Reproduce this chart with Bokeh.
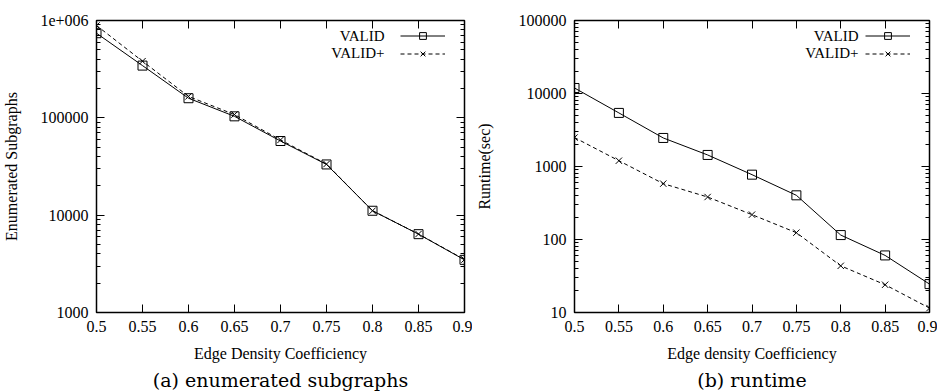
from bokeh.plotting import figure
from bokeh.layouts import row
from bokeh.models import (FixedTicker, CustomJSTickFormatter, LinearAxis, LogAxis,
                          Legend, LegendItem, Label, Title, Range1d)
from bokeh.embed import file_html
from bokeh.resources import INLINE

# ---- data ----
density = [0.5, 0.55, 0.6, 0.65, 0.7, 0.75, 0.8, 0.85, 0.9]
x_ticks = [0.5, 0.55, 0.6, 0.65, 0.7, 0.75, 0.8, 0.85, 0.9]
x_tick_labels = ["0.5", "0.55", "0.6", "0.65", "0.7", "0.75", "0.8", "0.85", "0.9"]

enum_valid = [740000, 344000, 159000, 103600, 57800, 33200, 11100, 6380, 3475]
enum_validplus = [889000, 382000, 166000, 108000, 59300, 33500, 11100, 6400, 3500]
enum_y_ticks = [1000, 10000, 100000, 1000000]
enum_y_labels = ["1000", "10000", "100000", "1e+006"]

runtime_valid = [11900, 5420, 2460, 1440, 773, 403, 115, 60.5, 24.5]
runtime_validplus = [2490, 1200, 582, 382, 219, 124, 43.6, 24, 11.5]
runtime_y_ticks = [10, 100, 1000, 10000, 100000]
runtime_y_labels = ["10", "100", "1000", "10000", "100000"]

series_names = ["VALID", "VALID+"]

FONT = "Liberation Serif"
CAPTION_FONT = "DejaVu Serif"

FMT_CODE = """
for (let i = 0; i < tvals.length; i++) {
  if (Math.abs(tvals[i] - tick) <= 1e-6 * Math.abs(tvals[i])) { return tlabels[i]; }
}
return "";
"""


def style_axis(ax, show_labels):
    ax.axis_line_color = None
    ax.major_tick_line_color = "black"
    ax.major_tick_line_width = 1
    ax.major_tick_in = 8
    ax.major_tick_out = 0
    ax.minor_tick_line_color = "black"
    ax.minor_tick_line_width = 1
    ax.minor_tick_in = 4
    ax.minor_tick_out = 0
    ax.major_label_text_font = FONT
    ax.major_label_text_color = "black"
    ax.axis_label_text_font = FONT
    ax.axis_label_text_font_style = "normal"
    ax.axis_label_text_color = "black"
    ax.axis_label_text_font_size = "16px"
    if show_labels:
        ax.major_label_text_font_size = "16px"
    else:
        ax.major_label_text_font_size = "0px"
        ax.major_label_standoff = 0
        ax.formatter = CustomJSTickFormatter(code='return "";')


def make_panel(y_valid, y_plus, y_ticks, y_labels, y_title, x_title, caption,
               total_w, frame_w, border_left, ylab_standoff):
    p = figure(width=total_w, frame_height=292,
               x_range=Range1d(x_ticks[0], x_ticks[-1]),
               y_range=Range1d(y_ticks[0], y_ticks[-1]),
               y_axis_type="log", output_backend="svg", toolbar_location=None,
               min_border_left=border_left, min_border_right=8,
               min_border_top=20, min_border_bottom=0,
               background_fill_color="white", border_fill_color="white")
    p.grid.visible = False
    p.outline_line_color = "black"
    p.outline_line_width = 1.5

    minor = [k * t for t in y_ticks[:-1] for k in range(2, 10)]
    yticker = FixedTicker(ticks=y_ticks, minor_ticks=minor)
    xticker = FixedTicker(ticks=x_ticks, minor_ticks=[])

    yax = p.yaxis[0]
    yax.ticker = yticker
    yax.formatter = CustomJSTickFormatter(args=dict(tvals=y_ticks, tlabels=y_labels), code=FMT_CODE)
    style_axis(yax, True)
    yax.axis_label = y_title
    yax.major_label_standoff = 8
    yax.axis_label_standoff = ylab_standoff

    xax = p.xaxis[0]
    xax.ticker = xticker
    xax.formatter = CustomJSTickFormatter(args=dict(tvals=x_ticks, tlabels=x_tick_labels), code=FMT_CODE)
    style_axis(xax, True)
    xax.axis_label = x_title
    xax.major_label_standoff = 8
    xax.axis_label_standoff = 10

    rax = LogAxis(ticker=yticker)
    style_axis(rax, False)
    p.add_layout(rax, "right")
    tax = LinearAxis(ticker=xticker)
    style_axis(tax, False)
    p.add_layout(tax, "above")

    r1 = p.line(density, y_valid, line_color="black", line_width=1)
    s1 = p.scatter(density, y_valid, marker="square", size=9, fill_color=None,
                   line_color="black", line_width=1)
    r2 = p.line(density, y_plus, line_color="black", line_width=1, line_dash="4 3")
    s2 = p.scatter(density, y_plus, marker="x", size=9, line_color="black", line_width=1)

    legend = Legend(items=[LegendItem(label=" ", renderers=[r1, s1]),
                           LegendItem(label=" ", renderers=[r2, s2])],
                    location="top_right", margin=7, padding=0, spacing=1,
                    glyph_width=45, glyph_height=17, label_height=17,
                    label_width=12, label_standoff=0,
                    border_line_color=None, background_fill_alpha=0,
                    label_text_font_size="1px")
    p.add_layout(legend)

    for name, yy in zip(series_names, [277, 259.5]):
        p.add_layout(Label(x=frame_w - 76, y=yy, x_units="screen", y_units="screen", text=name,
                           anchor="center_right", text_align="right", text_baseline="middle",
                           text_font=FONT, text_font_size="15px", text_color="black"))

    t = Title(text=caption, align="center", text_font=CAPTION_FONT, text_font_size="19px",
              text_font_style="normal", text_color="black", standoff=5)
    p.add_layout(t, "below")
    return p


p1 = make_panel(enum_valid, enum_validplus, enum_y_ticks, enum_y_labels,
                "Enumerated Subgraphs", "Edge Density Coefficiency",
                "(a) enumerated subgraphs", 472, 364, 92, 17)
p2 = make_panel(runtime_valid, runtime_validplus, runtime_y_ticks, runtime_y_labels,
                "Runtime(sec)", "Edge density Coefficiency",
                "(b) runtime", 465, 360, 89, 23)

layout = row(p1, p2)
open("out.html", "w").write(file_html(layout, INLINE))
